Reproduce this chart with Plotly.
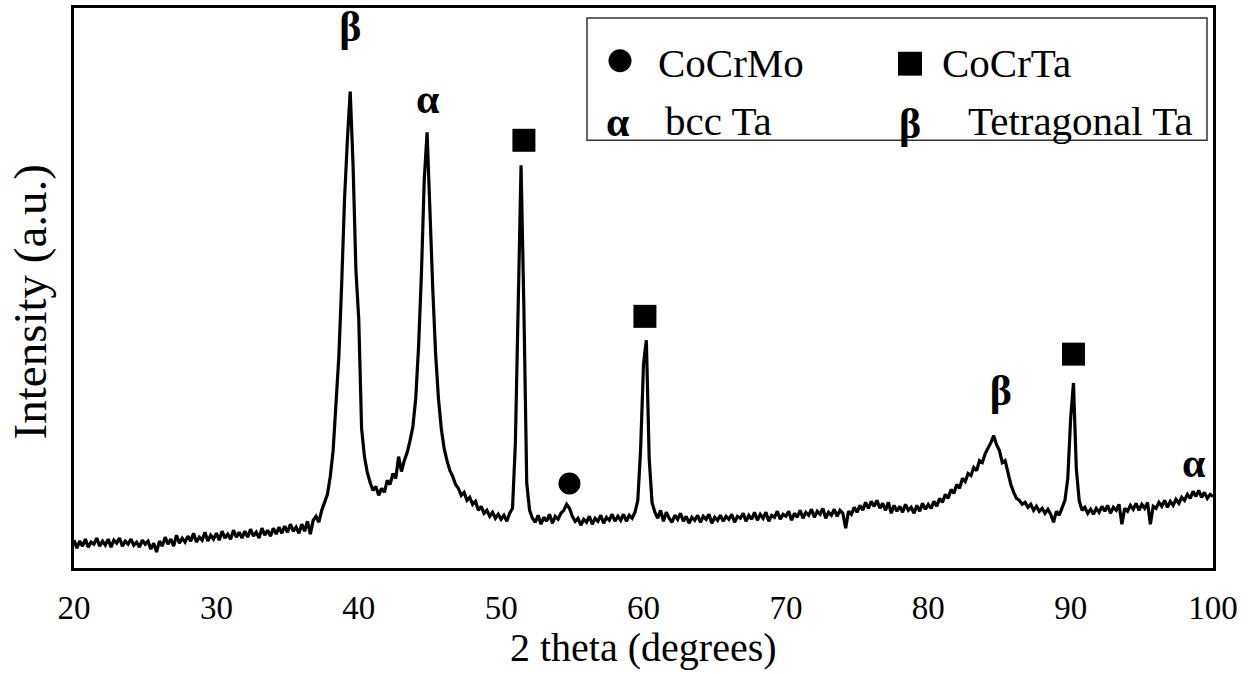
import plotly.graph_objects as go

# ---------------- data ----------------
theta_start = 20.0
theta_step = 0.2
intensity = [
    28, 20, 27, 22, 29, 21, 26, 24, 30, 22,      # 20.0 - 21.8
    27, 23, 29, 21, 28, 25, 30, 22, 27, 24,      # 22.0
    29, 23, 26, 21, 28, 24, 27, 19, 25, 16,      # 24.0
    27, 22, 31, 24, 29, 22, 33, 25, 30, 26,      # 26.0
    32, 27, 35, 26, 31, 28, 36, 27, 33, 29,      # 28.0
    35, 28, 37, 30, 34, 29, 38, 31, 36, 30,      # 30.0
    37, 31, 39, 32, 36, 30, 40, 33, 38, 32,      # 32.0
    40, 34, 41, 35, 42, 36, 44, 37, 41, 35,      # 34.0
    44, 37, 47, 34, 48, 52, 46, 58, 66, 74,      # 36.0
    92, 118, 165, 212, 285, 370, 430, 479, 405, 300,   # 38.0
    250, 140, 112, 96, 86, 78, 82, 73, 80, 76,   # 40.0
    88, 84, 95, 90, 112, 97, 108, 116, 128, 142, # 42.0
    170, 222, 295, 390, 438, 355, 280, 215, 170, 140,  # 44.0
    120, 108, 98, 92, 84, 80, 73, 76, 68, 71,    # 46.0
    64, 67, 58, 62, 55, 58, 52, 56, 50, 54,      # 48.0
    49, 53, 47, 55, 60, 125, 268, 405, 260, 85,  # 50.0
    58, 50, 46, 53, 44, 51, 47, 54, 45, 52,      # 52.0
    49, 55, 58, 64, 60, 52, 47, 50, 43, 49,      # 54.0
    46, 52, 44, 50, 47, 53, 45, 51, 48, 54,      # 56.0
    47, 52, 48, 54, 47, 53, 50, 56, 68, 120,     # 58.0
    205, 229, 110, 66, 56, 50, 58, 47, 56, 50,   # 60.0
    46, 53, 49, 55, 47, 52, 45, 51, 48, 53,      # 62.0
    46, 52, 49, 54, 45, 51, 48, 53, 47, 52,      # 64.0
    49, 54, 46, 52, 50, 55, 47, 53, 49, 56,      # 66.0
    48, 54, 50, 56, 47, 53, 51, 57, 49, 54,      # 68.0
    52, 57, 48, 55, 51, 58, 50, 56, 53, 59,      # 70.0
    51, 57, 54, 60, 50, 56, 53, 59, 52, 58,      # 72.0
    55, 40, 57, 54, 61, 56, 63, 58, 66, 60,      # 74.0
    67, 62, 68, 60, 65, 58, 66, 55, 63, 57,      # 76.0
    62, 56, 64, 58, 61, 55, 63, 57, 65, 59,      # 78.0
    64, 60, 67, 62, 70, 66, 74, 70, 79, 75,      # 80.0
    84, 80, 90, 87, 95, 93, 101, 98, 108, 106,   # 82.0
    115, 120, 126, 133, 124, 118, 106, 108, 95, 84,    # 84.0
    76, 70, 68, 64, 66, 61, 64, 58, 62, 57,      # 86.0
    60, 55, 59, 54, 46, 57, 53, 60, 68, 90,      # 88.0
    150, 186, 100, 68, 58, 61, 55, 59, 54, 60,   # 90.0
    56, 62, 57, 63, 55, 61, 58, 64, 44, 60,      # 92.0
    57, 63, 59, 65, 58, 64, 60, 66, 44, 62,      # 94.0
    60, 66, 62, 68, 61, 67, 63, 69, 65, 71,      # 96.0
    68, 74, 70, 77, 72, 78, 71, 76, 70, 74,      # 98.0
    72,                                          # 100.0
]
two_theta = [round(theta_start + theta_step * i, 1) for i in range(len(intensity))]

# peak identification marks
cocrta_x = [51.6, 60.1, 90.2]
cocrta_y = [430, 253, 215]
cocrmo_x = [54.8]
cocrmo_y = [85]
phase_x = [39.4, 44.85, 85.1, 98.65]
phase_y = [540, 468, 174, 102]
phase_txt = ["β", "α", "β", "α"]

x_ticks = [20, 30, 40, 50, 60, 70, 80, 90, 100]
x_title = "2 theta (degrees)"
y_title = "Intensity (a.u.)"
legend_labels = ["CoCrMo", "CoCrTa", "bcc Ta", "Tetragonal Ta"]

# ---------------- figure ----------------
W, H = 1254, 674
L, R, T, B = 74, 41, 5, 106
PW, PH = W - L - R, H - T - B
SERIF = "Liberation Serif, Times New Roman, serif"


def px(xp):
    return (xp - L) / PW


def py(yp):
    return (H - B - yp) / PH


fig = go.Figure()
fig.add_trace(go.Scatter(x=two_theta, y=intensity, mode="lines",
                         line=dict(color="black", width=3.2), showlegend=False,
                         hoverinfo="skip"))
fig.add_trace(go.Scatter(x=cocrta_x, y=cocrta_y, mode="markers",
                         marker=dict(symbol="square", size=23, color="black"),
                         showlegend=False))
fig.add_trace(go.Scatter(x=cocrmo_x, y=cocrmo_y, mode="markers",
                         marker=dict(symbol="circle", size=22, color="black"),
                         showlegend=False))
fig.add_trace(go.Scatter(x=phase_x, y=phase_y, mode="text", text=phase_txt,
                         textposition="middle center",
                         textfont=dict(family=SERIF, size=42, color="black", weight="bold"),
                         showlegend=False, cliponaxis=False))

shapes = []
# legend box
shapes.append(dict(type="rect", xref="paper", yref="paper",
                   x0=px(587), x1=px(1207), y0=py(138), y1=py(15),
                   line=dict(color="#333333", width=1.5), fillcolor="white", layer="below"))
shapes.append(dict(type="circle", xref="paper", yref="paper",
                   x0=px(608.5), x1=px(631.5), y0=py(69.5), y1=py(46.5),
                   line=dict(width=0), fillcolor="black"))
shapes.append(dict(type="rect", xref="paper", yref="paper",
                   x0=px(898), x1=px(922), y0=py(73), y1=py(49),
                   line=dict(width=0), fillcolor="black"))

ann = []
ann.append(dict(text="α", x=px(618), y=py(120), xref="paper", yref="paper",
                showarrow=False, xanchor="center", yanchor="middle",
                font=dict(family=SERIF, size=42, color="black", weight="bold")))
ann.append(dict(text="β", x=px(910), y=py(122), xref="paper", yref="paper",
                showarrow=False, xanchor="center", yanchor="middle",
                font=dict(family=SERIF, size=42, color="black", weight="bold")))
leg_pos = [(656, 60), (940, 60), (663, 119), (966, 119)]
for lab, (lx, ly) in zip(legend_labels, leg_pos):
    ann.append(dict(text=lab, x=px(lx), y=py(ly), xref="paper", yref="paper",
                    showarrow=False, xanchor="left", yanchor="middle",
                    font=dict(family=SERIF, size=41, color="black")))
ann.append(dict(text=x_title, x=px(643), y=py(673), xref="paper", yref="paper",
                showarrow=False, xanchor="center", yanchor="bottom",
                font=dict(family=SERIF, size=40, color="black")))
ann.append(dict(text=y_title, x=px(30), y=py(301), xref="paper", yref="paper",
                showarrow=False, xanchor="center", yanchor="middle", textangle=-90,
                font=dict(family=SERIF, size=47, color="black")))

fig.update_layout(
    width=W, height=H,
    margin=dict(l=L, r=R, t=T, b=B, pad=0),
    paper_bgcolor="white", plot_bgcolor="white",
    shapes=shapes, annotations=ann,
    xaxis=dict(range=[20, 100], tickvals=x_ticks, ticktext=[str(v) for v in x_ticks],
               showgrid=False, zeroline=False, showline=True, mirror=True,
               linecolor="black", linewidth=3, ticks="",
               tickfont=dict(family=SERIF, size=33, color="black"),
               ticklabelstandoff=8),
    yaxis=dict(range=[0, PH], showticklabels=False, showgrid=False, zeroline=False,
               showline=True, mirror=True, linecolor="black", linewidth=3, ticks=""),
)

fig.write_html("out.html")
